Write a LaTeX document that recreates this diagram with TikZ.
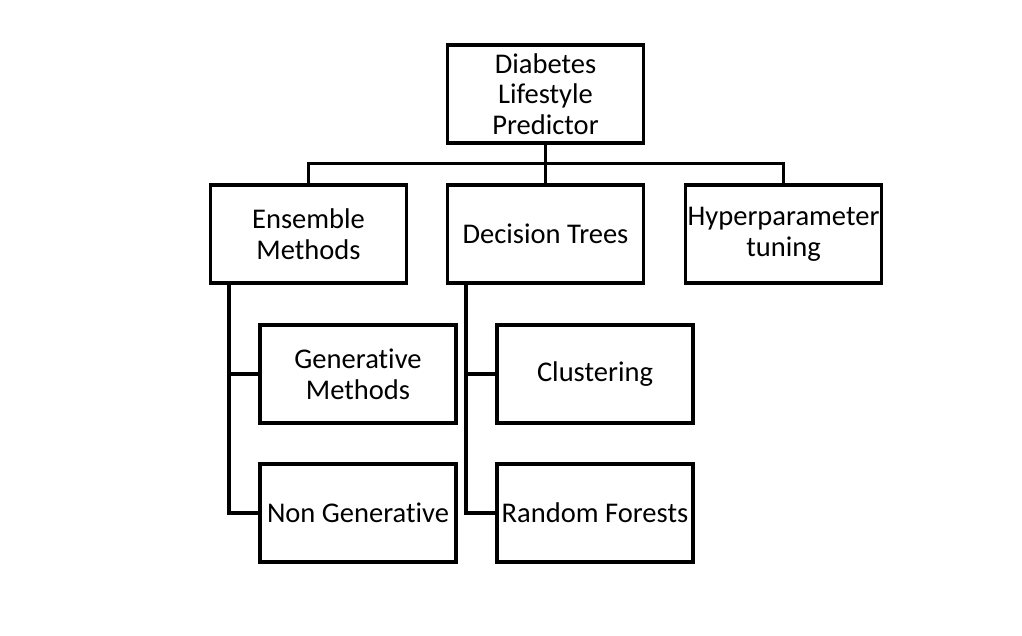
\documentclass[tikz,border=0pt]{standalone}
\usepackage{fontspec}
\setmainfont{Carlito}[Ligatures=NoCommon]
\begin{document}
\begin{tikzpicture}[x=0.75pt,y=-0.75pt]
\tikzset{kasten/.style={draw,line width=2.4pt,minimum width=147pt,minimum height=73.5pt,align=center,inner sep=1pt,font=\fontsize{21.4}{23}\selectfont}}
\tikzset{linie/.style={line width=2.4pt}}
\useasboundingbox (0,0) rectangle (1022,636);
\node [kasten] (root) at (545.5,94) {Diabetes\\Lifestyle\\Predictor};
\node [kasten] (ens) at (308.5,234) {Ensemble\\Methods};
\node [kasten] (dec) at (545.5,234) {Decision Trees};
\node [kasten] (hyp) at (783.5,234) {Hyperparameter\\tuning};
\node [kasten] (gen) at (358,374) {Generative\\Methods};
\node [kasten] (clu) at (595,374) {Clustering};
\node [kasten] (non) at (358,513) {Non Generative};
\node [kasten] (rf) at (595,513) {Random Forests};
\coordinate (bus) at (545.5,163.5);
\draw[linie] (root.south) to (bus);
\draw[linie] (bus) -| (ens.north);
\draw[linie] (bus) -| (hyp.north);
\draw[linie] (bus) to (dec.north);
\draw[linie] ([xshift=15pt]ens.south west) |- (gen.west);
\draw[linie] ([xshift=15pt]ens.south west) |- (non.west);
\draw[linie] ([xshift=15pt]dec.south west) |- (clu.west);
\draw[linie] ([xshift=15pt]dec.south west) |- (rf.west);
\end{tikzpicture}
\end{document}
